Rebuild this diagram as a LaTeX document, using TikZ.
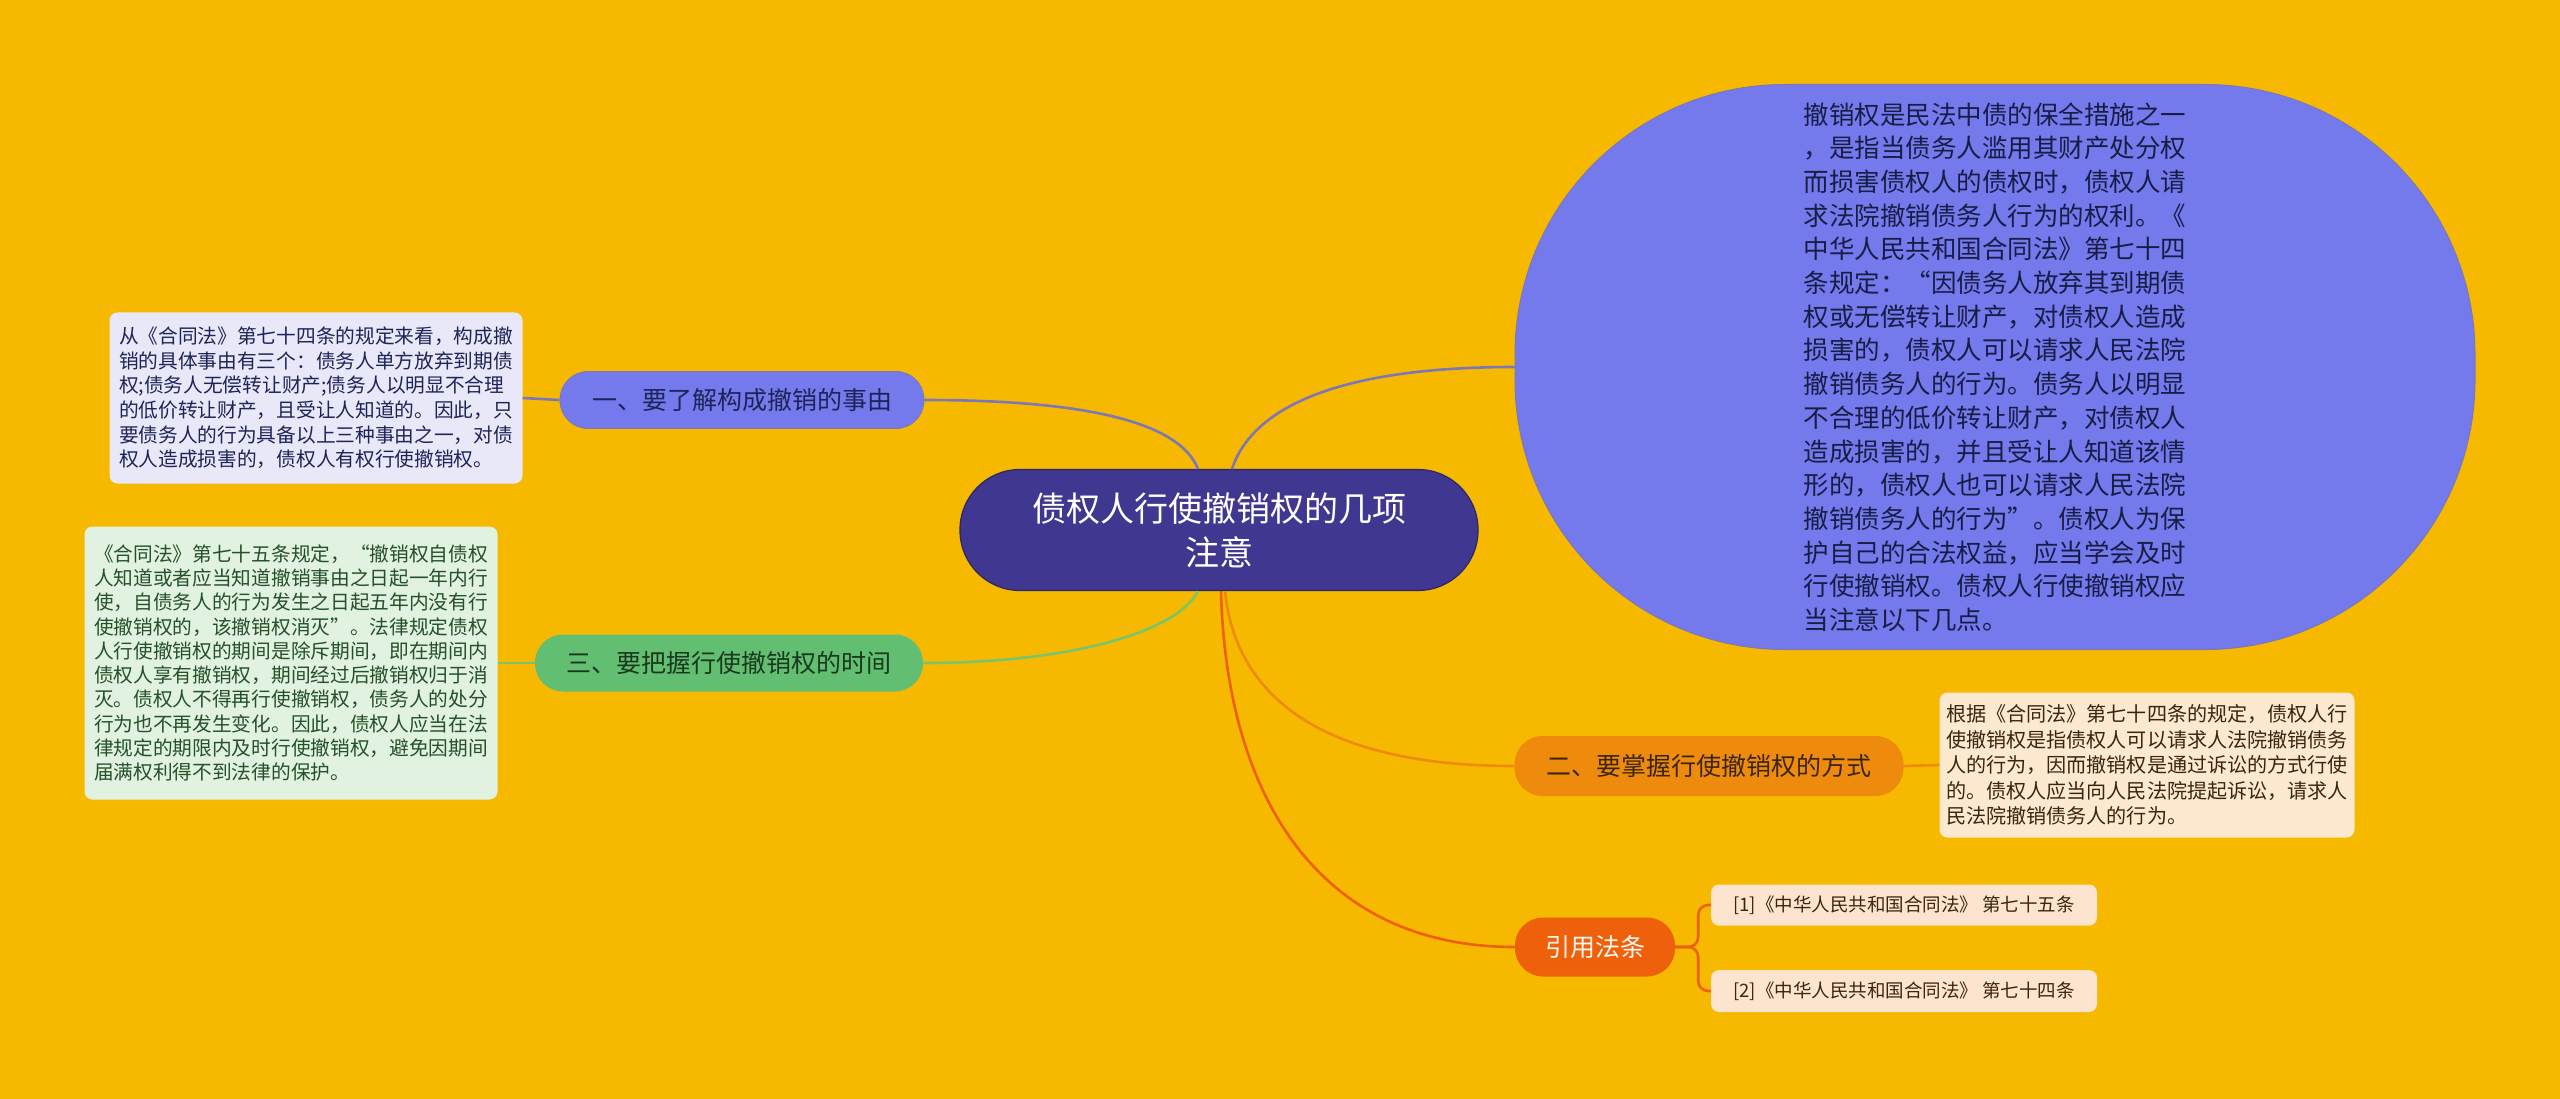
\documentclass[tikz,border=0pt]{standalone}
\usepackage{fontspec}
\setmainfont{Noto Sans CJK SC}
\usetikzlibrary{positioning, calc}
\definecolor{bgyellow}{HTML}{F6B900}
\definecolor{rootblue}{HTML}{3F3790}
\definecolor{rootline}{HTML}{2C2766}
\definecolor{lavender}{HTML}{7479EC}
\definecolor{lavline}{HTML}{7D78B5}
\definecolor{navytext}{HTML}{1E2458}
\definecolor{leafone}{HTML}{E8E8F8}
\definecolor{leafgreen}{HTML}{E2F2E0}
\definecolor{topicgreen}{HTML}{62BF72}
\definecolor{linkgreen}{HTML}{7CC46A}
\definecolor{greentext}{HTML}{24502A}
\definecolor{topicorange}{HTML}{EE8A0C}
\definecolor{leafpeach}{HTML}{FCE9CF}
\definecolor{browntext}{HTML}{3A2610}
\definecolor{citered}{HTML}{EE600A}
\definecolor{citepeach}{HTML}{FCE4CE}

\begin{document}
\begin{tikzpicture}[
    x=1pt, y=-1pt,
    every node/.style={inner sep=0pt},
    rootbox/.style={fill=rootblue, draw=rootline, line width=1.2pt, rounded corners=60pt,
      minimum width=518pt, minimum height=121pt, align=center, text=white,
      font=\fontsize{34}{44}\selectfont},
    topicbox/.style={rounded corners=28pt, minimum height=57pt, font=\fontsize{25}{30}\selectfont},
    leafbox/.style={rounded corners=8pt, align=left, font=\fontsize{19.7}{24.6}\selectfont},
    link/.style={line width=2.6pt},
  ]
  % background
  \fill[bgyellow] (0,0) rectangle (2560,1099);
  \useasboundingbox (0,0) rectangle (2560,1099);

  % Root
  \node[rootbox] (root) at (1219,530) {债权人行使撤销权的几项\\注意};

  % Summary bubble
  \node[fill=lavender, draw=lavline, line width=1pt, rounded corners=270pt,
    minimum width=960pt, minimum height=565pt, align=left, text=navytext!80!black,
    font=\fontsize{25.5}{33.7}\selectfont] (intro) at (1995,367) {%
    撤销权是民法中债的保全措施之一\\
    ，是指当债务人滥用其财产处分权\\
    而损害债权人的债权时，债权人请\\
    求法院撤销债务人行为的权利。《\\
    中华人民共和国合同法》第七十四\\
    条规定：“因债务人放弃其到期债\\
    权或无偿转让财产，对债权人造成\\
    损害的，债权人可以请求人民法院\\
    撤销债务人的行为。债务人以明显\\
    不合理的低价转让财产，对债权人\\
    造成损害的，并且受让人知道该情\\
    形的，债权人也可以请求人民法院\\
    撤销债务人的行为”。债权人为保\\
    护自己的合法权益，应当学会及时\\
    行使撤销权。债权人行使撤销权应\\
    当注意以下几点。};

  % Topic 1
  \node[topicbox, fill=lavender, draw=lavline, line width=0.8pt, text=navytext,
    minimum width=364pt] (reason) at (742,400) {一、要了解构成撤销的事由};
  \node[leafbox, fill=leafone, text=navytext, minimum width=413pt, minimum height=171pt]
    (reasonleaf) at (316,398) {%
    从《合同法》第七十四条的规定来看，构成撤\\
    销的具体事由有三个：债务人单方放弃到期债\\
    权;债务人无偿转让财产;债务人以明显不合理\\
    的低价转让财产，且受让人知道的。因此，只\\
    要债务人的行为具备以上三种事由之一，对债\\
    权人造成损害的，债权人有权行使撤销权。};

  % Topic 3
  \node[topicbox, fill=topicgreen, text=greentext!70!black, minimum width=388pt]
    (period) at (729,663) {三、要把握行使撤销权的时间};
  \node[leafbox, fill=leafgreen, text=greentext, minimum width=413pt, minimum height=273pt,
    font=\fontsize{19.7}{24.3}\selectfont] (periodleaf) at (291,663) {%
    《合同法》第七十五条规定，“撤销权自债权\\
    人知道或者应当知道撤销事由之日起一年内行\\
    使，自债务人的行为发生之日起五年内没有行\\
    使撤销权的，该撤销权消灭”。法律规定债权\\
    人行使撤销权的期间是除斥期间，即在期间内\\
    债权人享有撤销权，期间经过后撤销权归于消\\
    灭。债权人不得再行使撤销权，债务人的处分\\
    行为也不再发生变化。因此，债权人应当在法\\
    律规定的期限内及时行使撤销权，避免因期间\\
    届满权利得不到法律的保护。};

  % Topic 2
  \node[topicbox, fill=topicorange, text=browntext, minimum width=389pt, minimum height=60pt]
    (method) at (1709,766) {二、要掌握行使撤销权的方式};
  \node[leafbox, fill=leafpeach, text=browntext, minimum width=415pt, minimum height=145pt,
    font=\fontsize{20.1}{25.4}\selectfont] (methodleaf) at (2147,765) {%
    根据《合同法》第七十四条的规定，债权人行\\
    使撤销权是指债权人可以请求人法院撤销债务\\
    人的行为，因而撤销权是通过诉讼的方式行使\\
    的。债权人应当向人民法院提起诉讼，请求人\\
    民法院撤销债务人的行为。};

  % Citations
  \node[topicbox, fill=citered, text=white!94!orange, minimum width=160pt, minimum height=59pt]
    (cite) at (1595,947) {引用法条};
  \node[leafbox, fill=citepeach, text=browntext, minimum width=386pt, minimum height=41pt,
    font=\fontsize{18.5}{22}\selectfont] (citea) at (1904,905) {[1]《中华人民共和国合同法》 第七十五条};
  \node[leafbox, fill=citepeach, text=browntext, minimum width=386pt, minimum height=42pt,
    font=\fontsize{18.5}{22}\selectfont] (citeb) at (1904,991) {[2]《中华人民共和国合同法》 第七十四条};

  % Links
  \draw[link, lavline] ([xshift=13pt]root.north) .. controls +(20,-60) and +(-180,0) .. (intro.west);
  \draw[link, lavline] ([xshift=-21pt]root.north) .. controls +(-20,-50) and +(150,0) .. (reason.east);
  \draw[link, lavline] (reason.west) -- (reasonleaf.east);
  \draw[link, linkgreen] ([xshift=-21pt]root.south) .. controls +(-20,40) and +(150,0) .. (period.east);
  \draw[link, linkgreen] (period.west) -- (periodleaf.east);
  \draw[link, topicorange] ([xshift=6pt]root.south) .. controls +(10,100) and +(-200,0) .. (method.west);
  \draw[link, topicorange] (method.east) -- (methodleaf.west);
  \draw[link, citered] ([xshift=2pt]root.south) .. controls +(5,200) and +(-200,0) .. (cite.west);
  \draw[link, citered, rounded corners=10pt] (cite.east) -- ++(23,0) |- (citea.west);
  \draw[link, citered, rounded corners=10pt] (cite.east) -- ++(23,0) |- (citeb.west);
\end{tikzpicture}
\end{document}
